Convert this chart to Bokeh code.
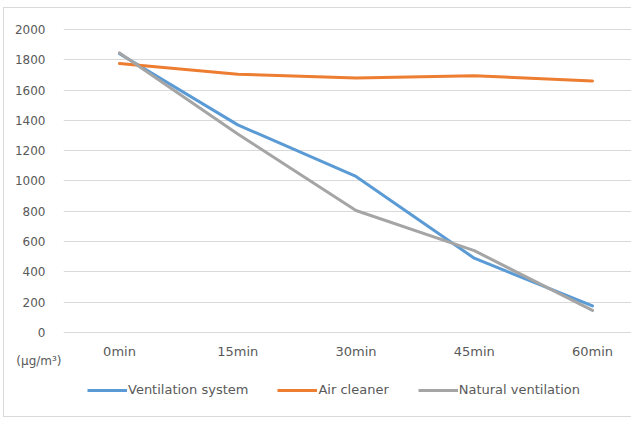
from bokeh.plotting import figure
from bokeh.models import Range1d, FixedTicker, Legend, LegendItem
from bokeh.layouts import column
from bokeh.embed import file_html
from bokeh.resources import INLINE

categories = ["0min", "15min", "30min", "45min", "60min"]
ventilation_system = [1840, 1370, 1030, 490, 175]
air_cleaner = [1775, 1705, 1680, 1695, 1660]
natural_ventilation = [1845, 1310, 805, 540, 145]
y_ticks = list(range(0, 2001, 200))
unit_label = "(μg/m³)"
series_names = ["Ventilation system", "Air cleaner", "Natural ventilation"]
colors = ["#5b9bd5", "#ed7d31", "#a5a5a5"]
series = [ventilation_system, air_cleaner, natural_ventilation]

FONT = "DejaVu Sans"
TXT = "#595959"
BORDER = "1px solid #d9d9d9"

xs = list(range(len(categories)))
x_range = Range1d(-0.4736, 4.3383)


def plain_axis(ax, size):
    ax.axis_line_color = None
    ax.major_tick_line_color = None
    ax.minor_tick_line_color = None
    ax.major_tick_out = 0
    ax.major_tick_in = 0
    ax.major_label_text_font = FONT
    ax.major_label_text_font_size = size
    ax.major_label_text_color = TXT


# ---- main chart ----
p = figure(width=628, height=333, output_backend="svg", toolbar_location=None,
           x_range=x_range, y_range=Range1d(-60, 2013),
           min_border_left=59, min_border_right=0, min_border_top=19,
           min_border_bottom=0,
           styles={"border-left": BORDER, "border-top": BORDER})
p.outline_line_color = None
p.xgrid.grid_line_color = None
p.xaxis.visible = False
p.ygrid.grid_line_color = "#d9d9d9"
p.ygrid.grid_line_width = 1
p.ygrid.ticker = FixedTicker(ticks=y_ticks)
p.yaxis.ticker = FixedTicker(ticks=y_ticks)
plain_axis(p.yaxis, "12px")
p.yaxis.major_label_standoff = 18

for vals, col in zip(series, colors):
    p.line(xs, vals, line_color=col, line_width=3, line_join="round", line_cap="round")

# ---- category labels, unit caption and legend strip ----
q = figure(width=628, height=77, output_backend="svg", toolbar_location=None,
           x_range=x_range, y_range=Range1d(0, 1.02),
           x_axis_location="above", y_axis_location="left",
           min_border_left=59, min_border_right=0, min_border_top=18, min_border_bottom=0,
           styles={"border-left": BORDER, "border-bottom": BORDER})
q.outline_line_color = None
q.grid.visible = False
q.xaxis.ticker = FixedTicker(ticks=xs)
q.xaxis.major_label_overrides = {i: c for i, c in zip(xs, categories)}
plain_axis(q.xaxis, "13px")
q.xaxis.major_label_standoff = 1
q.yaxis.ticker = FixedTicker(ticks=[1])
q.yaxis.major_label_overrides = {1: unit_label}
plain_axis(q.yaxis, "12px")
q.yaxis.major_label_standoff = 2

# same series, outside this strip's range: only their legend glyphs show
legend_renderers = [q.line(xs, vals, line_color=col, line_width=3) for vals, col in zip(series, colors)]
legend = Legend(items=[LegendItem(label=n, renderers=[r]) for n, r in zip(series_names, legend_renderers)],
                orientation="horizontal", location=(24, 20), border_line_color=None,
                background_fill_alpha=0, glyph_width=40, glyph_height=12, label_standoff=1,
                spacing=29, padding=0, margin=0,
                label_text_font=FONT, label_text_font_size="13px", label_text_color=TXT)
q.add_layout(legend, "center")

layout = column(p, q, spacing=0, styles={"margin-left": "3px", "margin-top": "7px"})

open("out.html", "w").write(file_html(layout, INLINE))
